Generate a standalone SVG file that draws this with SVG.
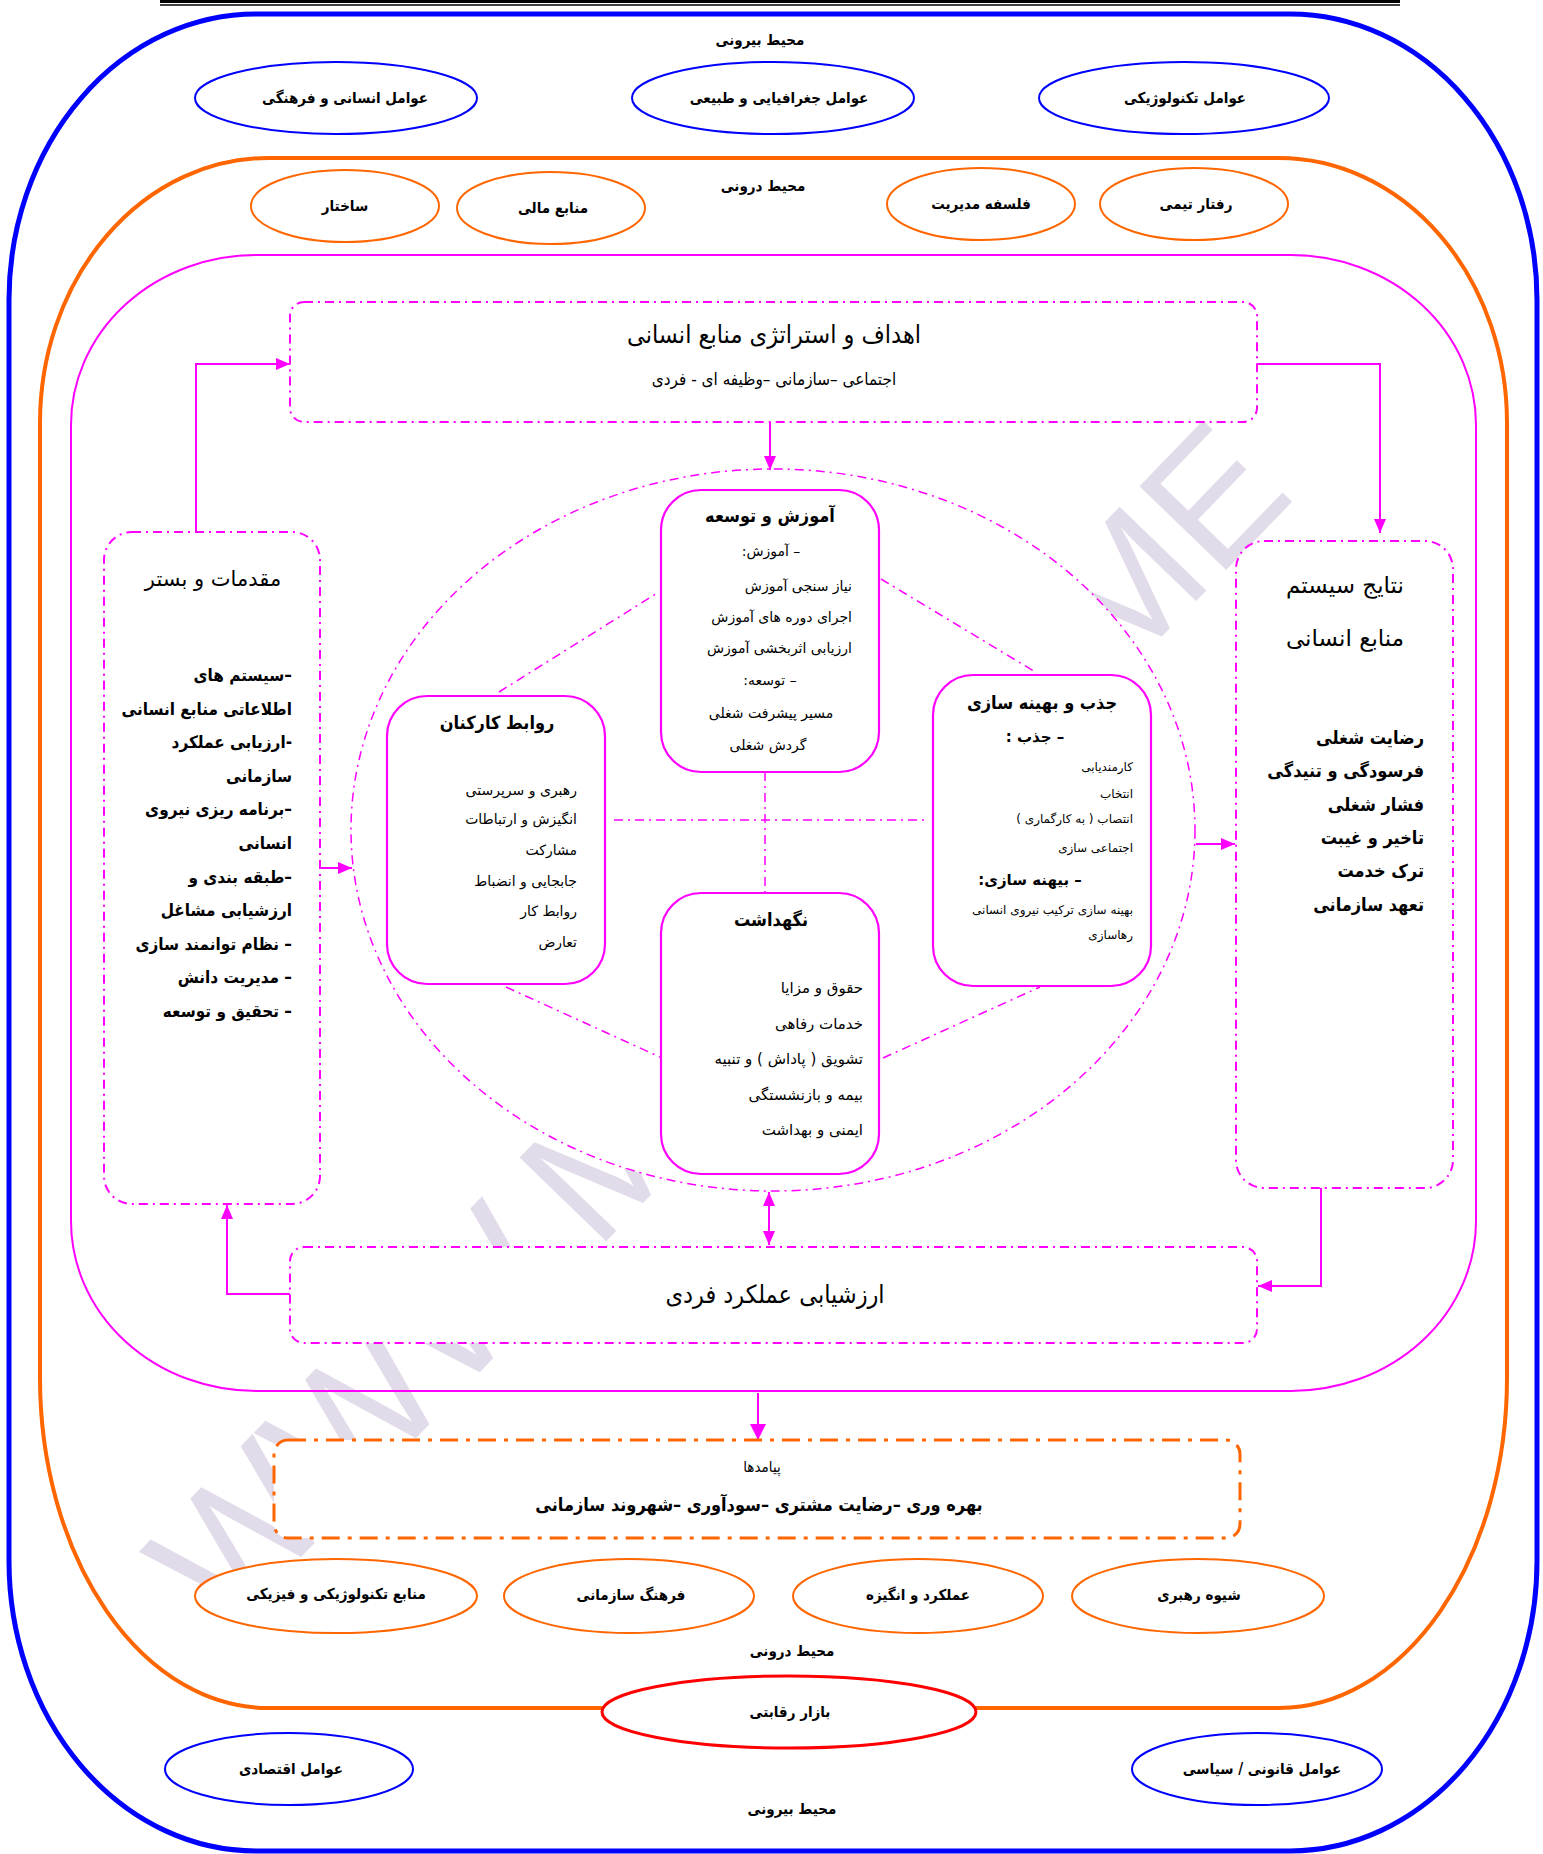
<svg xmlns="http://www.w3.org/2000/svg" width="1543" height="1854" viewBox="0 0 1543 1854">
  <defs>
    <style>
      text { font-family: "DejaVu Sans", sans-serif; direction: rtl; fill: #000; }
      .n { font-family: "DejaVu Sans Condensed", "DejaVu Sans", sans-serif; font-stretch: condensed; }
      .c { text-anchor: middle; }
      .r { text-anchor: start; }
      .b { font-weight: bold; }
      .lbl { font-family: "DejaVu Sans Condensed", "DejaVu Sans", sans-serif; font-stretch: condensed; font-size: 15px; font-weight: bold; text-anchor: middle; }
      .ext { fill: #fff; stroke: #0000FF; stroke-width: 2; }
      .int { fill: #fff; stroke: #FF6600; stroke-width: 2; }
      .box { fill: #fff; stroke: #FF00FF; stroke-width: 2.2; }
      .dbox { fill: #fff; stroke: #FF00FF; stroke-width: 2; stroke-dasharray: 9 5 2 5; }
      .circ { fill: #fff; stroke: #FF00FF; stroke-width: 1.5; stroke-dasharray: 9 5 2 5; }
      .link { fill: none; stroke: #FF00FF; stroke-width: 1.5; stroke-dasharray: 9 5 2 5; }
      .arr { fill: none; stroke: #FF00FF; stroke-width: 2; }
      .wm { font-family: "Liberation Sans", sans-serif; direction: ltr; fill: #E2DCEA; font-size: 175px; }
    </style>
    <marker id="ah" viewBox="0 0 14 12" refX="14" refY="6" markerWidth="14" markerHeight="12" markerUnits="userSpaceOnUse" orient="auto-start-reverse">
      <path d="M0,0 L14,6 L0,12 z" fill="#FF00FF"/>
    </marker>
    <marker id="ahb" viewBox="0 0 16 16" refX="16" refY="8" markerWidth="16" markerHeight="16" markerUnits="userSpaceOnUse" orient="auto">
      <path d="M0,0 L16,8 L0,16 z" fill="#FF00FF"/>
    </marker>
  </defs>

  <rect width="1543" height="1854" fill="#fff"/>

  <!-- page rule at the top -->
  <line x1="160" y1="1.5" x2="1400" y2="1.5" stroke="#000" stroke-width="3"/>
  <line x1="160" y1="5" x2="1400" y2="5" stroke="#000" stroke-width="1.5"/>

  <!-- watermark -->
  <g id="watermark">
    <text class="wm" transform="translate(225,1636) rotate(-46)">WWW.M</text>
    <text class="wm" transform="translate(1115,685) rotate(-46)">ME</text>
  </g>

  <!-- environment frames -->
  <g id="outer-environment">
    <path d="M256,14 H1290 A247,286 0 0 1 1537,300 V1561 A247,290 0 0 1 1290,1851 H256 A247,290 0 0 1 9,1561 V300 A247,286 0 0 1 256,14 Z" fill="none" stroke="#0000FF" stroke-width="5"/>
  </g>
  <g id="inner-environment">
    <path d="M268,158 H1279 A228,265 0 0 1 1507,423 V1378 A228,330 0 0 1 1279,1708 H268 A228,330 0 0 1 40,1378 V423 A228,265 0 0 1 268,158 Z" fill="none" stroke="#FF6600" stroke-width="4"/>
  </g>
  <g id="hr-system">
    <path d="M256,255 H1291 A185,170 0 0 1 1476,425 V1221 A185,170 0 0 1 1291,1391 H256 A185,170 0 0 1 71,1221 V425 A185,170 0 0 1 256,255 Z" fill="none" stroke="#FF00FF" stroke-width="2"/>
  </g>

  <!-- labels of the environments -->
  <text class="lbl" x="760" y="45">محیط بیرونی</text>
  <text class="lbl" x="763" y="191">محیط درونی</text>
  <text class="lbl" x="792" y="1656">محیط درونی</text>
  <text class="lbl" x="792" y="1814">محیط بیرونی</text>

  <!-- external factors -->
  <g id="ext-human">
    <ellipse class="ext" cx="336" cy="98" rx="141" ry="36"/>
    <text class="lbl" x="345" y="103">عوامل انسانی و فرهنگی</text>
  </g>
  <g id="ext-geo">
    <ellipse class="ext" cx="773" cy="98" rx="141" ry="36"/>
    <text class="lbl" x="779" y="103">عوامل جغرافیایی و طبیعی</text>
  </g>
  <g id="ext-tech">
    <ellipse class="ext" cx="1184" cy="98" rx="145" ry="36"/>
    <text class="lbl" x="1185" y="103">عوامل تکنولوژیکی</text>
  </g>
  <g id="ext-econ">
    <ellipse class="ext" cx="289" cy="1769" rx="124" ry="36"/>
    <text class="lbl" x="291" y="1774">عوامل اقتصادی</text>
  </g>
  <g id="ext-legal">
    <ellipse class="ext" cx="1257" cy="1769" rx="125" ry="36"/>
    <text class="lbl" x="1262" y="1774">عوامل قانونی / سیاسی</text>
  </g>
  <g id="market">
    <ellipse cx="789" cy="1712" rx="187" ry="36" fill="#fff" stroke="#FF0000" stroke-width="3"/>
    <text class="lbl" x="790" y="1717">بازار رقابتی</text>
  </g>

  <!-- internal factors -->
  <g id="int-structure">
    <ellipse class="int" cx="345" cy="206" rx="94" ry="36"/>
    <text class="lbl" x="345" y="211">ساختار</text>
  </g>
  <g id="int-finance">
    <ellipse class="int" cx="551" cy="208" rx="94" ry="36"/>
    <text class="lbl" x="553" y="213">منابع مالی</text>
  </g>
  <g id="int-philosophy">
    <ellipse class="int" cx="981" cy="204" rx="94" ry="36"/>
    <text class="lbl" x="981" y="209">فلسفه مدیریت</text>
  </g>
  <g id="int-team">
    <ellipse class="int" cx="1194" cy="204" rx="94" ry="36"/>
    <text class="lbl" x="1196" y="209">رفتار تیمی</text>
  </g>
  <g id="int-techres">
    <ellipse class="int" cx="336" cy="1596" rx="141" ry="37"/>
    <text class="lbl" x="336" y="1599">منابع تکنولوژیکی و فیزیکی</text>
  </g>
  <g id="int-culture">
    <ellipse class="int" cx="629" cy="1596" rx="125" ry="37"/>
    <text class="lbl" x="631" y="1600">فرهنگ سازمانی</text>
  </g>
  <g id="int-performance">
    <ellipse class="int" cx="918" cy="1596" rx="125" ry="37"/>
    <text class="lbl" x="918" y="1600">عملکرد و انگیزه</text>
  </g>
  <g id="int-leadership">
    <ellipse class="int" cx="1198" cy="1596" rx="126" ry="37"/>
    <text class="lbl" x="1199" y="1600">شیوه رهبری</text>
  </g>

  <!-- HR functions ring -->
  <g id="hr-functions">
    <ellipse class="circ" cx="773" cy="830" rx="422" ry="361"/>
  </g>

  <!-- connectors -->
  <g id="connectors">
    <!-- links between the four functions -->
    <line class="link" x1="765" y1="772" x2="765" y2="893"/>
    <line class="link" x1="614" y1="820" x2="927" y2="820"/>
    <line class="link" x1="499" y1="692" x2="659" y2="592"/>
    <line class="link" x1="881" y1="579" x2="1037" y2="673"/>
    <line class="link" x1="506" y1="987" x2="662" y2="1058"/>
    <line class="link" x1="883" y1="1058" x2="1040" y2="987"/>
    <!-- flow arrows -->
    <line class="arr" x1="770" y1="422" x2="770" y2="470" marker-end="url(#ah)"/>
    <polyline class="arr" points="196,532 196,364 290,364" marker-end="url(#ah)"/>
    <polyline class="arr" points="290,1294 227,1294 227,1205" marker-end="url(#ah)"/>
    <line class="arr" x1="320" y1="868" x2="352" y2="868" marker-end="url(#ah)"/>
    <polyline class="arr" points="1257,364 1380,364 1380,533" marker-end="url(#ah)"/>
    <polyline class="arr" points="1321,1188 1321,1286 1258,1286" marker-end="url(#ah)"/>
    <line class="arr" x1="1196" y1="844" x2="1235" y2="844" marker-end="url(#ah)"/>
    <line class="arr" x1="769" y1="1192" x2="769" y2="1245" stroke-width="3" marker-start="url(#ah)" marker-end="url(#ah)"/>
    <line class="arr" x1="758" y1="1393" x2="758" y2="1440" stroke-width="5" marker-end="url(#ahb)"/>
  </g>

  <!-- HR goals and strategy -->
  <g id="goals">
    <rect class="dbox" x="290" y="302" width="967" height="120" rx="14"/>
    <text class="c n" x="774" y="343" font-size="25">اهداف و استراتژی منابع انسانی</text>
    <text class="c n" x="774" y="385" font-size="17">اجتماعی –سازمانی –وظیفه ای - فردی</text>
  </g>

  <!-- prerequisites -->
  <g id="prerequisites">
    <rect class="dbox" x="104" y="532" width="216" height="672" rx="28"/>
    <text class="c" x="213" y="586" font-size="21">مقدمات و بستر</text>
    <g class="r b n" font-size="17">
      <text x="292" y="681">–سیستم های</text>
      <text x="292" y="715">اطلاعاتی منابع انسانی</text>
      <text x="292" y="748">-ارزیابی عملکرد</text>
      <text x="292" y="782">سازمانی</text>
      <text x="292" y="815">–برنامه ریزی نیروی</text>
      <text x="292" y="849">انسانی</text>
      <text x="292" y="883">–طبقه بندی و</text>
      <text x="292" y="916">ارزشیابی مشاغل</text>
      <text x="292" y="950">– نظام توانمند سازی</text>
      <text x="292" y="983">– مدیریت دانش</text>
      <text x="292" y="1017">– تحقیق و توسعه</text>
    </g>
  </g>

  <!-- outcomes of the HR system -->
  <g id="hr-outcomes">
    <rect class="dbox" x="1236" y="541" width="217" height="647" rx="28"/>
    <text class="c" x="1345" y="593" font-size="23">نتایج سیستم</text>
    <text class="c" x="1345" y="646" font-size="23">منابع انسانی</text>
    <g class="r b n" font-size="18">
      <text x="1424" y="744">رضایت شغلی</text>
      <text x="1424" y="777">فرسودگی و تنیدگی</text>
      <text x="1424" y="811">فشار شغلی</text>
      <text x="1424" y="844">تاخیر و غیبت</text>
      <text x="1424" y="877">ترک خدمت</text>
      <text x="1424" y="911">تعهد سازمانی</text>
    </g>
  </g>

  <!-- training and development -->
  <g id="training">
    <rect class="box" x="661" y="490" width="218" height="282" rx="40"/>
    <text class="c b n" x="770" y="522" font-size="18">آموزش و توسعه</text>
    <text class="c" x="771" y="556" font-size="14">– آموزش:</text>
    <g class="r" font-size="14">
      <text x="852" y="591">نیاز سنجی آموزش</text>
      <text x="852" y="622">اجرای دوره های آموزش</text>
      <text x="852" y="653">ارزیابی اثربخشی آموزش</text>
    </g>
    <text class="c" x="770" y="685" font-size="14">– توسعه:</text>
    <text class="c" x="771" y="718" font-size="14">مسیر پیشرفت شغلی</text>
    <text class="c" x="768" y="750" font-size="14">گردش شغلی</text>
  </g>

  <!-- employee relations -->
  <g id="relations">
    <rect class="box" x="387" y="696" width="218" height="288" rx="40"/>
    <text class="c b n" x="497" y="729" font-size="18">روابط کارکنان</text>
    <g class="r" font-size="14">
      <text x="577" y="795">رهبری و سرپرستی</text>
      <text x="577" y="824">انگیزش و ارتباطات</text>
      <text x="577" y="855">مشارکت</text>
      <text x="577" y="886">جابجایی و انضباط</text>
      <text x="577" y="916">روابط کار</text>
      <text x="577" y="947">تعارض</text>
    </g>
  </g>

  <!-- attraction and optimisation -->
  <g id="attraction">
    <rect class="box" x="933" y="675" width="218" height="311" rx="40"/>
    <text class="c b n" x="1042" y="709" font-size="18">جذب و بهینه سازی</text>
    <text class="c b" x="1035" y="742" font-size="15">– جذب :</text>
    <g class="r" font-size="12">
      <text x="1133" y="771">کارمندیابی</text>
      <text x="1133" y="798">انتخاب</text>
      <text x="1133" y="823">انتصاب ( به کارگماری )</text>
      <text x="1133" y="852">اجتماعی سازی</text>
    </g>
    <text class="c b" x="1030" y="885" font-size="15">– بیهنه سازی:</text>
    <g class="r" font-size="12">
      <text x="1133" y="914">بهینه سازی ترکیب نیروی انسانی</text>
      <text x="1133" y="939">رهاسازی</text>
    </g>
  </g>

  <!-- maintenance -->
  <g id="maintenance">
    <rect class="box" x="661" y="893" width="218" height="281" rx="40"/>
    <text class="c b n" x="771" y="926" font-size="18">نگهداشت</text>
    <g class="r" font-size="15">
      <text x="863" y="993">حقوق و مزایا</text>
      <text x="863" y="1029">خدمات رفاهی</text>
      <text x="863" y="1064">تشویق ( پاداش ) و تنبیه</text>
      <text x="863" y="1100">بیمه و بازنشستگی</text>
      <text x="863" y="1135">ایمنی و بهداشت</text>
    </g>
  </g>

  <!-- individual performance appraisal -->
  <g id="appraisal">
    <rect class="dbox" x="290" y="1247" width="967" height="96" rx="14"/>
    <text class="c n" x="775" y="1303" font-size="25">ارزشیابی عملکرد فردی</text>
  </g>

  <!-- consequences -->
  <g id="consequences">
    <rect x="274" y="1440" width="966" height="98" rx="14" fill="#fff" stroke="#FF6600" stroke-width="3" stroke-dasharray="18 8 4 8"/>
    <text class="c n" x="762" y="1472" font-size="15">پیامدها</text>
    <text class="c b n" x="759" y="1511" font-size="18">بهره وری –رضایت مشتری –سودآوری –شهروند سازمانی</text>
  </g>
</svg>
